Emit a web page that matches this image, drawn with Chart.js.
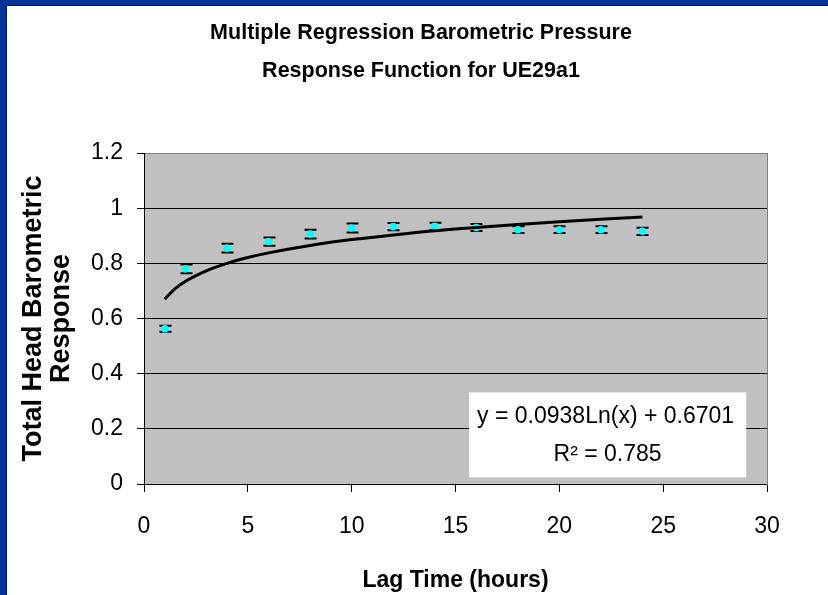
<!DOCTYPE html>
<html lang="en">
<head>
    <meta charset="UTF-8">
    <title>Multiple Regression Barometric Pressure Response Function for UE29a1</title>
    <script src="https://cdn.jsdelivr.net/npm/chart.js"></script>
    <style>
        html, body {
            margin: 0;
            padding: 0;
            background: #fff;
        }
        #frame {
            position: absolute;
            left: 0;
            top: 0;
            width: 828px;
            height: 595px;
            box-sizing: border-box;
            border-top: 5px solid #003399;
            border-left: 6px solid #003399;
        }
        #inner {
            width: 822px;
            height: 590px;
            box-sizing: border-box;
            border-top: 1px solid #0a1c48;
            border-left: 1px solid #0a1c48;
        }
        canvas {
            display: block;
        }
    </style>
</head>
<body>
<div id="frame"><div id="inner"><canvas id="myChart" width="821" height="589"></canvas></div></div>

<script>
    const lagHours = [1, 2, 4, 6, 8, 10, 12, 14, 16, 18, 20, 22, 24];
    const response = [0.563, 0.780, 0.855, 0.879, 0.906, 0.928, 0.933, 0.934, 0.930, 0.922, 0.922, 0.922, 0.916];
    const responseErr = [0.011, 0.016, 0.016, 0.015, 0.016, 0.016, 0.013, 0.013, 0.013, 0.012, 0.012, 0.012, 0.013];

    // log trendline as drawn in the chart
    const trendX = [1, 1.5, 2, 3, 4, 5, 6, 8, 10, 12, 14, 16, 18, 20, 22, 24];
    const trendY = [0.670, 0.708, 0.735, 0.773, 0.800, 0.821, 0.838, 0.865, 0.886, 0.903, 0.918, 0.930, 0.941, 0.951, 0.960, 0.968];

    const trendLines = ['y = 0.0938Ln(x) + 0.6701', 'R\u00B2 = 0.785'];

    const FONT = "'Liberation Sans', Arial, sans-serif";

    // grey plot area + white page
    const plotBg = {
        id: 'plotBg',
        beforeDraw(chart) {
            const {ctx, chartArea: a} = chart;
            ctx.save();
            ctx.fillStyle = '#ffffff';
            ctx.fillRect(0, 0, chart.width, chart.height);
            ctx.fillStyle = '#c0c0c0';
            ctx.fillRect(a.left, a.top, a.width, a.height);
            ctx.restore();
        }
    };

    // error bars under the markers
    const errorBars = {
        id: 'errorBars',
        beforeDatasetsDraw(chart) {
            const {ctx, scales: {x, y}} = chart;
            ctx.save();
            ctx.strokeStyle = '#000';
            for (let i = 0; i < lagHours.length; i++) {
                const px = Math.round(x.getPixelForValue(lagHours[i])) + 0.5;
                const top = y.getPixelForValue(response[i] + responseErr[i]);
                const bot = y.getPixelForValue(response[i] - responseErr[i]);
                ctx.lineWidth = 1;
                ctx.beginPath();
                ctx.moveTo(px, top);
                ctx.lineTo(px, bot);
                ctx.stroke();
                ctx.lineWidth = 2;
                ctx.beginPath();
                ctx.moveTo(px - 6, top);
                ctx.lineTo(px + 6, top);
                ctx.moveTo(px - 6, bot);
                ctx.lineTo(px + 6, bot);
                ctx.stroke();
            }
            ctx.restore();
        }
    };

    // equation box, anchored in data units
    const trendLabel = {
        id: 'trendLabel',
        afterDatasetsDraw(chart, args, opts) {
            const {ctx, scales: {x, y}} = chart;
            const l = x.getPixelForValue(opts.x0), r = x.getPixelForValue(opts.x1);
            const t = y.getPixelForValue(opts.y1), b = y.getPixelForValue(opts.y0);
            ctx.save();
            ctx.fillStyle = '#ffffff';
            ctx.fillRect(l, t, r - l, b - t);
            ctx.fillStyle = '#000';
            ctx.font = '23px ' + FONT;
            ctx.textAlign = 'center';
            ctx.textBaseline = 'middle';
            const cx = (l + r) / 2;
            ctx.fillText(opts.lines[0], cx - 2, t + 24);
            ctx.fillText(opts.lines[1], cx, t + 62);
            ctx.restore();
        }
    };

    const ctx = document.getElementById('myChart').getContext('2d');
    const myChart = new Chart(ctx, {
        type: 'scatter',
        data: {
            datasets: [
                {
                    label: 'Log trend',
                    data: trendX.map((v, i) => ({x: v, y: trendY[i]})),
                    showLine: true,
                    borderColor: '#000',
                    borderWidth: 3,
                    pointRadius: 0,
                    tension: 0.4,
                    cubicInterpolationMode: 'monotone'
                },
                {
                    label: 'Response',
                    data: lagHours.map((v, i) => ({x: v, y: response[i]})),
                    backgroundColor: '#00ffff',
                    borderColor: '#00ffff',
                    borderWidth: 0,
                    pointRadius: 3.8
                }
            ]
        },
        options: {
            responsive: false,
            animation: false,
            layout: {padding: {left: 7, right: 0, top: 0, bottom: 0}},
            plugins: {
                legend: {display: false},
                tooltip: {enabled: false},
                title: {
                    display: true,
                    text: ['Multiple Regression Barometric Pressure', 'Response Function for UE29a1'],
                    color: '#000',
                    font: {family: FONT, size: 21.5, weight: 'bold', lineHeight: '38px'},
                    padding: {top: 8, bottom: 63}
                },
                trendLabel: {x0: 15.65, x1: 29, y0: 0.024, y1: 0.332, lines: trendLines}
            },
            scales: {
                x: {
                    type: 'linear',
                    min: 0,
                    max: 30,
                    afterFit: s => { s.height = 111; },
                    ticks: {stepSize: 5, color: '#000', padding: 21, font: {family: FONT, size: 23}},
                    grid: {drawOnChartArea: false, drawTicks: true, tickLength: 8, color: '#000'},
                    border: {color: '#000', width: 1},
                    title: {
                        display: true,
                        text: 'Lag Time (hours)',
                        color: '#000',
                        font: {family: FONT, size: 23, weight: 'bold'},
                        padding: {top: 0, bottom: 1}
                    }
                },
                y: {
                    min: 0,
                    max: 1.2,
                    afterFit: s => { s.width = 130; },
                    ticks: {
                        stepSize: 0.2,
                        color: '#000',
                        padding: 14,
                        font: {family: FONT, size: 23},
                        callback: v => String(+v.toFixed(1))
                    },
                    grid: {
                        color: c => (c.tick && c.tick.value >= 1.19 ? '#808080' : '#000'),
                        tickColor: '#000',
                        tickLength: 7,
                        lineWidth: 1
                    },
                    border: {color: '#000', width: 1},
                    title: {
                        display: true,
                        text: ['Total Head Barometric', 'Response'],
                        color: '#000',
                        font: {family: FONT, size: 27, weight: 'bold', lineHeight: '28px'},
                        padding: {top: 6, bottom: 0}
                    }
                },
                y2: {
                    position: 'right',
                    min: 0,
                    max: 1.2,
                    afterFit: s => { s.width = 61; },
                    ticks: {display: false},
                    grid: {display: false},
                    border: {display: true, color: '#808080', width: 1}
                }
            }
        },
        plugins: [plotBg, errorBars, trendLabel]
    });
</script>
</body>
</html>
